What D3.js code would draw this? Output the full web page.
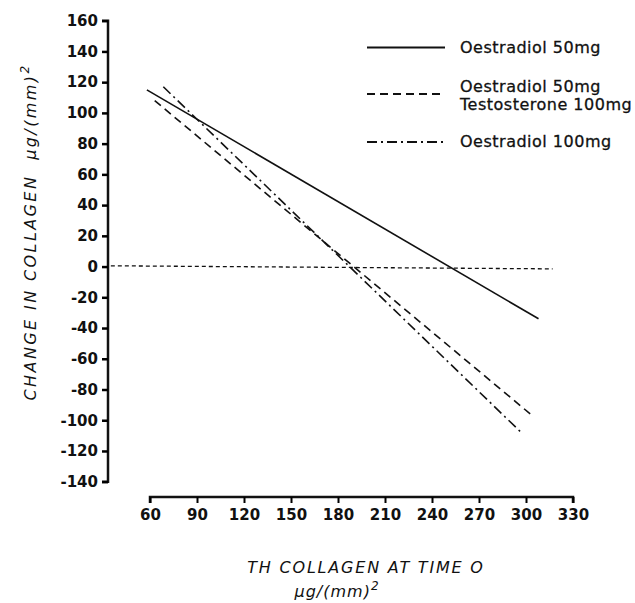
<!DOCTYPE html>
<html>
<head>
<meta charset="utf-8">
<script src="https://cdn.jsdelivr.net/npm/d3@7.9.0/dist/d3.min.js"></script>
<style>
  body { margin: 0; background: #fff; }
  text { font-family: "DejaVu Sans", sans-serif; fill: #111; }
  .tick text { font-size: 15px; font-weight: bold; }
  .title { font-style: italic; font-size: 16px; }
  .legend text { font-size: 16px; letter-spacing: 0.5px; stroke: #111; stroke-width: 0.3px; }
</style>
</head>
<body>
<svg width="635" height="603"></svg>
<script>
// values
const xTicks = [60, 90, 120, 150, 180, 210, 240, 270, 300, 330];
const yTicks = [160, 140, 120, 100, 80, 60, 40, 20, 0, -20, -40, -60, -80, -100, -120, -140];

const seriesNames = ['Oestradiol 50mg', 'Oestradiol 50mg|Testosterone 100mg', 'Oestradiol 100mg'];
const oestradiol50 = [[58, 115], [308, -34]];
const oestradiol50Testo100 = [[63, 108], [304, -97]];
const oestradiol100 = [[68.5, 117], [298, -109]];
const zeroLine = [[35, 0.5], [317, -1.5]];

const dashes = ['none', '8,5', '10,4,2,4'];

const svg = d3.select('svg');

const x = d3.scaleLinear().domain([60, 330]).range([150, 573]);
const y = d3.scaleLinear().domain([-140, 160]).range([481.7, 20.7]);

// y axis
const yAxis = svg.append('g')
  .attr('transform', 'translate(108,0)')
  .call(d3.axisLeft(y).tickValues(yTicks).tickSize(6).tickPadding(4).tickFormat(d3.format('d')));
yAxis.select('.domain').attr('stroke', '#111').attr('stroke-width', 2.5).attr('d', `M-6,${y(160)}H0V${y(-140)}H-6`);
yAxis.selectAll('.tick line').attr('stroke-width', 2.5);
yAxis.selectAll('.tick text').text(d => d < 0 ? '-' + Math.abs(d) : d);

// x axis
const xAxis = svg.append('g')
  .attr('transform', 'translate(0,497)')
  .call(d3.axisBottom(x).tickValues(xTicks).tickSize(6).tickPadding(6));
xAxis.select('.domain').attr('stroke', '#111').attr('stroke-width', 2.5).attr('d', `M${x(60)},6V0H${x(330)}V6`);
xAxis.selectAll('.tick line').attr('stroke-width', 2);

// axis titles
svg.append('text')
  .attr('class', 'title')
  .attr('transform', 'translate(36,232) rotate(-90)')
  .attr('text-anchor', 'middle')
  .attr('letter-spacing', 2.4)
  .html('CHANGE IN COLLAGEN&#160;&#160;μg/(mm)<tspan dy="-7" font-size="12">2</tspan>');

svg.append('text')
  .attr('class', 'title')
  .attr('x', 366).attr('y', 573)
  .attr('text-anchor', 'middle')
  .attr('letter-spacing', 1.8)
  .text('TH COLLAGEN AT TIME O');
svg.append('text')
  .attr('class', 'title')
  .attr('x', 337).attr('y', 597)
  .attr('text-anchor', 'middle')
  .attr('letter-spacing', 1)
  .html('μg/(mm)<tspan dy="-7" font-size="12">2</tspan>');

// lines
const line = d3.line().x(d => x(d[0])).y(d => y(d[1]));

svg.append('path')
  .datum(zeroLine)
  .attr('d', line)
  .attr('fill', 'none')
  .attr('stroke', '#111')
  .attr('stroke-width', 1.3)
  .attr('stroke-dasharray', '4,3');

[oestradiol50, oestradiol50Testo100, oestradiol100].forEach((s, i) => {
  svg.append('path')
    .datum(s)
    .attr('d', line)
    .attr('fill', 'none')
    .attr('stroke', '#111')
    .attr('stroke-width', 1.6)
    .attr('stroke-dasharray', dashes[i]);
});

// legend
const legendY = [47.5, 94, 142];
const legend = svg.append('g').attr('class', 'legend');
seriesNames.forEach((name, i) => {
  legend.append('line')
    .attr('x1', 367).attr('x2', 445)
    .attr('y1', legendY[i]).attr('y2', legendY[i])
    .attr('stroke', '#111')
    .attr('stroke-width', 1.8)
    .attr('stroke-dasharray', dashes[i]);
  const parts = name.split('|');
  const t = legend.append('text').attr('x', 460).attr('y', legendY[i] + 5 - (parts.length - 1) * 7);
  parts.forEach((p, j) => {
    t.append('tspan').attr('x', 460).attr('dy', j ? 18 : 0).text(p);
  });
});
</script>
</body>
</html>
